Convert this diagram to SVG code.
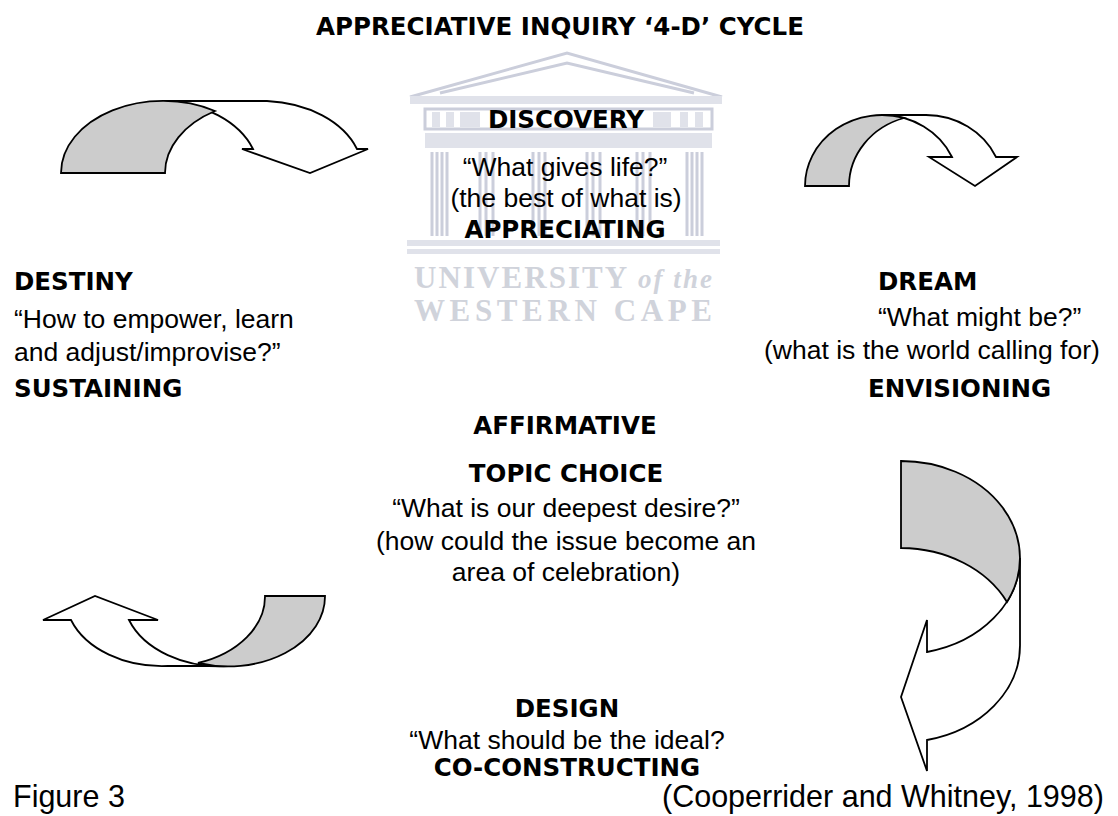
<svg xmlns="http://www.w3.org/2000/svg" width="1118" height="816" viewBox="0 0 1118 816">
<style>
.b{font-family:"DejaVu Sans","Liberation Sans",sans-serif;font-weight:bold;font-size:24.5px;fill:#000}
.r{font-family:"Liberation Sans",Arial,sans-serif;font-size:26.5px;fill:#000}
.f{font-family:"Liberation Sans",Arial,sans-serif;font-size:30.5px;fill:#000}
.m{text-anchor:middle}
.arrow{stroke:#000;stroke-width:1.8;stroke-linejoin:miter}
.front{fill:#fff}
.back{fill:#cccccc}
.wm{fill:none;stroke:#cbcedb;stroke-width:3}
.wmf{fill:#e0e2ea;stroke:none}
.wmt{font-family:"Liberation Serif","DejaVu Serif",serif;font-weight:bold;font-size:31px;fill:#d0d3db}
</style>
<rect width="1118" height="816" fill="#fff"/>

<g id="watermark">
  <polyline class="wm" points="410,97 567,53 722,97"/>
  <polyline class="wm" points="440,93 567,63 694,93"/>
  <rect class="wmf" x="410" y="96" width="312" height="8"/>
  <rect class="wm" x="425" y="109" width="287" height="20" stroke-width="2"/>
  <rect class="wmf" x="432" y="112" width="8" height="15"/>
  <rect class="wmf" x="446" y="112" width="8" height="15"/>
  <rect class="wmf" x="460" y="112" width="20" height="15"/>
  <rect class="wmf" x="653" y="112" width="18" height="15"/>
  <rect class="wmf" x="680" y="112" width="8" height="15"/>
  <rect class="wmf" x="695" y="112" width="8" height="15"/>
  <rect class="wmf" x="425" y="133" width="287" height="15"/>
  <g class="wm" stroke-width="2">
    <path d="M432,152V236M447,152V236M437,152V236M442,152V236"/>
    <path d="M480,152V236M493,152V236M486,152V236"/>
    <path d="M533,152V236M545,152V236M539,152V236"/>
    <path d="M587,152V236M600,152V236M593,152V236"/>
    <path d="M637,152V236M650,152V236M643,152V236"/>
    <path d="M687,152V236M702,152V236M692,152V236M697,152V236"/>
  </g>
  <rect class="wmf" x="407" y="240" width="313" height="6"/>
  <rect class="wmf" x="407" y="249" width="313" height="5"/>
  <text class="wmt" x="414" y="288" textLength="298" lengthAdjust="spacing">UNIVERSITY <tspan font-style="italic" font-size="27">of the</tspan></text>
  <text class="wmt" x="414" y="321" textLength="298" lengthAdjust="spacing">WESTERN CAPE</text>
</g>

<g id="title">
  <text class="b m" x="560" y="35">APPRECIATIVE INQUIRY ‘4-D’ CYCLE</text>
</g>

<g id="connectors">
  <g id="arrow-discovery-to-dream">
    <path class="arrow front" d="M882,115 L926,115 A77,71 0 0,1 996,157 L1017,157 L975,186 L929,157 L952,157 A77,71 0 0,0 882,115 Z"/>
    <path class="arrow back" d="M805,186 A77,71 0 0,1 904,118 A77,71 0 0,0 849,186 Z"/>
  </g>
  <g id="arrow-dream-to-design">
    <path class="arrow front" d="M1020,558 L1020,645 A119,97 0 0,1 927,740 L927,771 L901,697 L927,620 L927,652 A119,97 0 0,0 1020,558 Z"/>
    <path class="arrow back" d="M901,461 A119,97 0 0,1 1007,602 A119,97 0 0,0 901,548 Z"/>
  </g>
  <g id="arrow-design-to-destiny">
    <path class="arrow front" d="M228,666 L168,666 A97,70 0 0,1 71,620 L43,620 L95,596 L158,620 L129,620 A97,70 0 0,0 228,666 Z"/>
    <path class="arrow back" d="M325,596 A97,70 0 0,1 198,663 A97,70 0 0,0 265,596 Z"/>
  </g>
  <g id="arrow-destiny-to-discovery">
    <path class="arrow front" d="M163,101 L267,101 A102,72 0 0,1 357,149 L368,149 L310,173 L242,149 L253,149 A102,72 0 0,0 163,101 Z"/>
    <path class="arrow back" d="M61,173 A102,72 0 0,1 215,111 A102,72 0 0,0 165,173 Z"/>
  </g>
</g>

<g id="discovery">
  <text class="b m" x="566" y="128">DISCOVERY</text>
  <text class="r m" x="565" y="176">“What gives life?”</text>
  <text class="r m" x="566" y="207">(the best of what is)</text>
  <text class="b m" x="565" y="238">APPRECIATING</text>
</g>

<g id="destiny">
  <text class="b" x="14" y="290">DESTINY</text>
  <text class="r" x="14" y="328">“How to empower, learn</text>
  <text class="r" x="14" y="361">and adjust/improvise?”</text>
  <text class="b" x="14" y="397">SUSTAINING</text>
</g>

<g id="dream">
  <text class="b" x="878" y="290">DREAM</text>
  <text class="r" x="878" y="326">“What might be?”</text>
  <text class="r" x="764" y="359">(what is the world calling for)</text>
  <text class="b" x="868" y="397">ENVISIONING</text>
</g>

<g id="topic-choice">
  <text class="b m" x="565" y="434">AFFIRMATIVE</text>
  <text class="b m" x="566" y="482">TOPIC CHOICE</text>
  <text class="r m" x="566" y="517">“What is our deepest desire?”</text>
  <text class="r m" x="566" y="550">(how could the issue become an</text>
  <text class="r m" x="566" y="581">area of celebration)</text>
</g>

<g id="design">
  <text class="b m" x="567" y="717">DESIGN</text>
  <text class="r m" x="567" y="749">“What should be the ideal?</text>
  <text class="b m" x="567" y="776">CO-CONSTRUCTING</text>
</g>

<g id="caption">
  <text class="f" x="13" y="807">Figure 3</text>
  <text class="f" x="662" y="807">(Cooperrider and Whitney, 1998)</text>
</g>
</svg>
